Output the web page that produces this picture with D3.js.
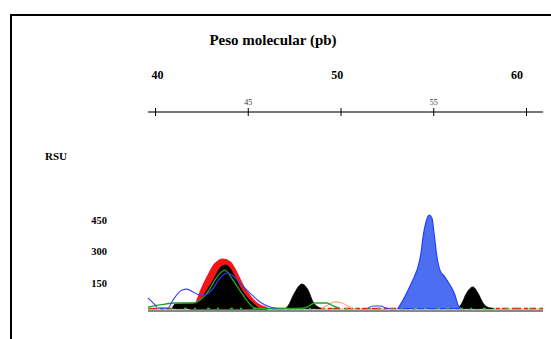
<!DOCTYPE html>
<html>
<head>
<meta charset="utf-8">
<script src="https://cdn.jsdelivr.net/npm/d3@7"></script>
<style>
  body { margin: 0; background: #fff; }
  svg { display: block; font-family: "Liberation Serif", "DejaVu Serif", serif; }
</style>
</head>
<body>
<div id="chart"></div>
<script>
// electropherogram, values as [bp, RSU]
const title = "Peso molecular (pb)";
const yTitle = "RSU";
const majorTicks = [40, 50, 60];
const minorTicks = [45, 55];
const allTicks = [40, 45, 50, 55, 60];
const yTicks = [150, 300, 450];

const redPeak = [[41.89, 0], [42.16, 12], [42.53, 88], [42.86, 149], [43.23, 206], [43.67, 230], [44.04, 216],
  [44.42, 159], [44.74, 102], [45.12, 54], [45.55, 17], [46.04, 0]];
const blackPeaks = [
  [[40.92, 0], [41.08, 21], [42.16, 26], [42.43, 40], [42.81, 88], [43.23, 149], [43.5, 192], [43.77, 206],
    [43.99, 197], [44.2, 168], [44.58, 102], [44.96, 54], [45.39, 17], [45.61, 0]],
  [[47.01, 0], [47.17, 12], [47.49, 69], [47.92, 116], [48.25, 88], [48.52, 31], [48.79, 7], [48.95, 0]],
  [[56.33, 0], [56.55, 26], [56.77, 69], [57.14, 102], [57.41, 73], [57.68, 26], [58.06, 2], [58.27, 0]],
];
const greenTrace = [[39.62, 7], [40.27, 17], [41.08, 26], [42.05, 26], [42.8, 73], [43.34, 149], [43.77, 182],
  [44.2, 135], [44.74, 64], [45.28, 7], [45.55, 0], [47.82, 0], [48.19, 7], [48.63, 26], [49.27, 26],
  [49.6, 12], [49.97, 0]];
const blueTrace = [[39.62, 50], [40.0, 17], [40.16, 2], [40.7, 2], [40.97, 40], [41.46, 88], [41.73, 92],
  [42.05, 78], [42.43, 64], [42.7, 64], [43.07, 88], [43.5, 144], [43.88, 168], [44.15, 159], [44.58, 121],
  [45.12, 73], [45.66, 31], [46.2, 7], [46.58, 0]];
const blueBump = [[51.48, 0], [51.75, 12], [52.13, 12], [52.45, 2], [52.67, 0]];
const orangeBump = [[49.0, 0], [49.33, 17], [49.7, 31], [50.08, 26], [50.4, 12], [50.62, 0]];
const bluePeak = [[53.1, 0], [53.37, 40], [53.75, 107], [54.02, 159], [54.18, 197], [54.34, 263], [54.45, 339],
  [54.61, 410], [54.77, 443], [54.93, 429], [55.04, 358], [55.2, 244], [55.36, 182], [55.63, 149],
  [55.9, 111], [56.17, 64], [56.33, 17], [56.5, 0]];
const xRange = [39.62, 60.92];

const width = 551, height = 339;
const svg = d3.select("#chart").append("svg").attr("width", width).attr("height", height);

const x = d3.scaleLinear().domain([40, 60]).range([155, 526]);
const xBig = d3.scaleLinear().domain([40, 60]).range([157.5, 517]);
const y = d3.scaleLinear().domain([0, 450]).range([308.5, 213.5]);

// frame, open to the right and bottom
svg.append("path")
  .attr("d", `M11,${height + 2}V15H${width + 2}`)
  .attr("fill", "none").attr("stroke", "#000").attr("stroke-width", 2);

svg.append("text").attr("x", 273).attr("y", 45).attr("text-anchor", "middle")
  .attr("font-size", 15).attr("font-weight", "bold").text(title);

svg.selectAll(".big").data(majorTicks).join("text")
  .attr("x", (d) => xBig(d)).attr("y", 79).attr("text-anchor", "middle")
  .attr("font-size", 12).attr("font-weight", "bold").text((d) => d);

// top axis
const axisG = svg.append("g").attr("transform", "translate(0,112)");
axisG.append("line").attr("x1", x(xRange[0])).attr("x2", x(xRange[1]))
  .attr("stroke", "#777").attr("stroke-width", 2);
axisG.call(d3.axisTop(x).tickValues(allTicks).tickSize(3).tickFormat((d) => (minorTicks.includes(d) ? d : "")));
axisG.select(".domain").remove();
axisG.selectAll(".tick line").attr("y1", 4).attr("y2", -4).attr("stroke", "#000");
axisG.selectAll(".tick text").attr("font-family", "Liberation Serif").attr("font-size", 8).attr("dy", "-0.1em").attr("fill", "#333");

svg.append("text").attr("x", 45).attr("y", 160).attr("font-size", 11).attr("font-weight", "bold").text(yTitle);
svg.selectAll(".ylab").data(yTicks).join("text")
  .attr("x", 107).attr("y", (d) => y(d) + 10).attr("text-anchor", "end")
  .attr("font-size", 10.5).attr("font-weight", "bold").text((d) => d);

const lineC = d3.line().x((d) => x(d[0])).y((d) => y(d[1])).curve(d3.curveMonotoneX);
const area = d3.area().x((d) => x(d[0])).y0(y(0)).y1((d) => y(d[1])).curve(d3.curveMonotoneX);

// baseline lines
const base = [[xRange[0], 0], [xRange[1], 0]];
svg.append("line").attr("x1", x(xRange[0])).attr("x2", x(xRange[1])).attr("y1", 311).attr("y2", 311)
  .attr("stroke", "#888").attr("stroke-width", 2);
svg.append("path").attr("d", lineC(base)).attr("fill", "none").attr("stroke", "#ffa56e").attr("stroke-width", 1.2)
  .attr("transform", "translate(0,0.6)");
svg.append("path").attr("d", lineC(base)).attr("fill", "none").attr("stroke", "#f01c1c").attr("stroke-width", 1.4)
  .attr("stroke-dasharray", "9,3,4,2,6,4");

svg.append("path").attr("d", area(redPeak)).attr("fill", "#f41616").attr("stroke", "#f41616").attr("stroke-width", 3);
blackPeaks.forEach((p) => {
  svg.append("path").attr("d", area(p)).attr("fill", "#000").attr("stroke", "#000").attr("stroke-width", 0.8);
});
svg.append("path").attr("d", area(bluePeak)).attr("fill", "#4d6ef0").attr("stroke", "#2340ff").attr("stroke-width", 1.2);

svg.append("path").attr("d", lineC(base)).attr("fill", "none").attr("stroke", "#3cb83c").attr("stroke-width", 1.4)
  .attr("stroke-dasharray", "2,11,3,7");
svg.append("path").attr("d", lineC(orangeBump)).attr("fill", "none").attr("stroke", "#ffa56e").attr("stroke-width", 1.2);
svg.append("path").attr("d", lineC(greenTrace)).attr("fill", "none").attr("stroke", "#27a027").attr("stroke-width", 1.3);
svg.append("path").attr("d", lineC(blueTrace)).attr("fill", "none").attr("stroke", "#3340ff").attr("stroke-width", 1.1);
svg.append("path").attr("d", lineC(blueBump)).attr("fill", "none").attr("stroke", "#3340ff").attr("stroke-width", 1.1);
</script>
</body>
</html>
